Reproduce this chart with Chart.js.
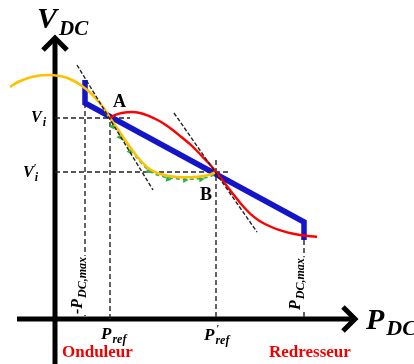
<!DOCTYPE html>
<html>
<head>
<meta charset="utf-8">
<script src="https://cdn.jsdelivr.net/npm/chart.js@4/dist/chart.umd.min.js"></script>
<style>
html,body{margin:0;padding:0;background:#fff;}
#wrap{width:414px;height:364px;position:relative;}
</style>
</head>
<body>
<div id="wrap"><canvas id="c" width="414" height="364"></canvas></div>
<script>
// Schematic V_DC - P_DC droop diagram (units: abstract, y upward)
const blueDroop = [{x:85,y:284},{x:85,y:261},{x:304,y:142},{x:304,y:124}];
const redCurve = [{x:110,y:246},{x:116,y:249.3},{x:123,y:251.2},{x:132,y:252},{x:140,y:251},{x:148,y:248.3},{x:157,y:244.2},{x:165,y:239.5},{x:173,y:233.8},{x:181,y:227.3},{x:190,y:219.8},{x:197,y:213},{x:203,y:206.7},{x:210,y:199.5},{x:216,y:192},{x:222,y:184.3},{x:227,y:177.8},{x:233,y:170},{x:240,y:161.3},{x:247,y:153.5},{x:253,y:147.8},{x:260,y:142.8},{x:267,y:139},{x:275,y:135.5},{x:283,y:132.8},{x:292,y:130.5},{x:300,y:129},{x:308,y:128},{x:317,y:127.3}];
const yellowCurve = [{x:10,y:277},{x:18,y:282},{x:26,y:285.3},{x:34,y:287.5},{x:42,y:288.7},{x:50,y:289},{x:58,y:288.3},{x:66,y:286.5},{x:74,y:283},{x:82,y:278},{x:90,y:271.5},{x:98,y:263},{x:104,y:255.5},{x:110,y:246},{x:116,y:237.3},{x:122,y:228.5},{x:128,y:219.8},{x:134,y:211.5},{x:140,y:204},{x:146,y:197.8},{x:152,y:193.5},{x:158,y:190.8},{x:165,y:188.8},{x:173,y:187.5},{x:182,y:186.8},{x:190,y:186.7},{x:198,y:187.2},{x:205,y:188.3},{x:211,y:189.8},{x:216,y:192}];
const greenTrail = [{x:111,y:243},{x:116,y:235.8},{x:122,y:227},{x:128,y:218.3},{x:134,y:210},{x:140,y:202.4},{x:146,y:196},{x:152,y:191.5},{x:158,y:188.8},{x:165,y:186.8},{x:173,y:185.5},{x:182,y:184.8},{x:190,y:184.7},{x:198,y:185.2},{x:205,y:186.3},{x:211,y:187.8},{x:215,y:190}];
const greenArrows = [{x:112.5,y:237.5},{x:120,y:227},{x:130,y:212.5},{x:148.5,y:193},{x:168,y:185},{x:185,y:184},{x:201,y:184.8}];
const greenRotation = [146,146,145,128,100,90,85];
const tangentA = [{x:77,y:299},{x:153,y:174}];
const tangentB = [{x:174,y:251},{x:257,y:132}];
const refLines = [
  [{x:55,y:246},{x:130,y:246}],
  [{x:55,y:192},{x:230,y:192}],
  [{x:85,y:261},{x:85,y:45}],
  [{x:110,y:250},{x:110,y:45}],
  [{x:216,y:204},{x:216,y:45}],
  [{x:304,y:124},{x:304,y:45}]
];
const vAxis = [{x:55,y:0},{x:55,y:324}];
const vArrow = [{x:43,y:314},{x:55,y:326},{x:67,y:314}];
const hAxis = [{x:17,y:45},{x:353,y:45}];
const hArrow = [{x:343,y:57},{x:355,y:45},{x:343,y:33}];

const SERIF = '"Liberation Serif","Times New Roman",serif';

function ds(data, color, width, order, extra){
  return Object.assign({data, order, borderColor:color, backgroundColor:color, borderWidth:width,
    pointRadius:0, showLine:true, fill:false, tension:0, borderCapStyle:'butt', borderJoinStyle:'miter'}, extra||{});
}
const datasets = [];
refLines.forEach(l=>datasets.push(ds(l,'#222',1.4,6,{borderDash:[5,3]})));
datasets.push(ds(tangentA,'#222',1.4,0,{borderDash:[4,2]}));
datasets.push(ds(tangentB,'#222',1.4,0,{borderDash:[4,2]}));
datasets.push(ds(vAxis,'#000',5,7));
datasets.push(ds(vArrow,'#000',5,7));
datasets.push(ds(hAxis,'#000',5,7));
datasets.push(ds(hArrow,'#000',5,7));
datasets.push(ds(greenTrail,'#2DB34A',1.6,4,{cubicInterpolationMode:'monotone',borderDash:[4,3]}));
datasets.push({data:greenArrows, order:4, showLine:false, pointStyle:'triangle', pointRadius:3.6, rotation:greenRotation,
  backgroundColor:'#2DB34A', borderColor:'#2DB34A', borderWidth:0});
datasets.push(ds(yellowCurve,'#FFC000',2.6,3,{cubicInterpolationMode:'monotone'}));
datasets.push(ds(redCurve,'#FF0000',2.4,2,{cubicInterpolationMode:'monotone'}));
datasets.push(ds(blueDroop,'#1414C8',5.5,5));

function rich(ctx, x, y, parts){
  let cx = x;
  parts.forEach(p=>{
    ctx.font = p.f;
    ctx.fillStyle = p.c || '#000';
    ctx.fillText(p.t, cx + (p.dx||0), y + (p.dy||0));
    if(!p.noadv) cx += ctx.measureText(p.t).width + (p.dx||0);
  });
  return cx - x;
}
function richWidth(ctx, parts){
  let w=0; parts.forEach(p=>{ctx.font=p.f; if(!p.noadv) w+=ctx.measureText(p.t).width+(p.dx||0);}); return w;
}
const BI = s => 'italic bold '+s+'px '+SERIF;
const B = s => 'bold '+s+'px '+SERIF;

const textPlugin = {
  id:'texts',
  afterDatasetsDraw(chart){
    const ctx = chart.ctx, xs = chart.scales.x, ys = chart.scales.y;
    const X = v=>xs.getPixelForValue(v), Y = v=>ys.getPixelForValue(v);
    ctx.save();
    ctx.textBaseline='alphabetic'; ctx.textAlign='left';
    // axis titles
    rich(ctx, X(37), Y(336), [{t:'V',f:BI(30)},{t:'DC',f:BI(21),dy:7,dx:2}]);
    rich(ctx, X(366), Y(35), [{t:'P',f:BI(30)},{t:'DC',f:BI(22),dy:6,dx:2}]);
    // points
    ctx.font = B(18); ctx.fillStyle='#000';
    ctx.fillText('A', X(113), Y(257));
    ctx.fillText('B', X(200), Y(164));
    // V_i, V'_i
    rich(ctx, X(31), Y(242), [{t:'V',f:BI(16)},{t:'i',f:BI(12),dy:4,dx:1}]);
    rich(ctx, X(23), Y(187), [{t:'V',f:BI(16)},{t:'\u2032',f:'bold 10px '+SERIF,dy:-6,dx:0,noadv:true},{t:'i',f:BI(12),dy:4,dx:1}]);
    // P_ref, P'_ref
    rich(ctx, X(101), Y(25), [{t:'P',f:BI(17)},{t:'ref',f:BI(12),dy:4,dx:1}]);
    rich(ctx, X(204), Y(24), [{t:'P',f:BI(17)},{t:'\u2032',f:'bold 10px '+SERIF,dy:-8,dx:2,noadv:true},{t:'ref',f:BI(12),dy:4,dx:1}]);
    // rotated labels with white background
    function vlabel(px, pyStart, parts){
      ctx.save();
      ctx.translate(px, pyStart);
      ctx.rotate(-Math.PI/2);
      const w = richWidth(ctx, parts);
      ctx.fillStyle='#fff';
      ctx.fillRect(-1, -15, w+2, 20);
      rich(ctx, 0, 0, parts);
      ctx.restore();
    }
    vlabel(X(82), Y(50), [{t:'-P',f:BI(16)},{t:'DC,max',f:BI(12),dy:4,dx:1}]);
    vlabel(X(300), Y(54), [{t:'P',f:BI(16)},{t:'DC,max',f:BI(12),dy:4,dx:1}]);
    // bottom red labels
    ctx.font = B(17); ctx.fillStyle='#F20000';
    ctx.fillText('Onduleur', X(62), Y(7));
    ctx.fillText('Redresseur', X(269), Y(7));
    ctx.restore();
  }
};

new Chart(document.getElementById('c'), {
  type:'scatter',
  data:{datasets},
  options:{
    responsive:false, devicePixelRatio:1, animation:false,
    layout:{padding:0, autoPadding:false},
    plugins:{legend:{display:false}, tooltip:{enabled:false}},
    scales:{
      x:{type:'linear', min:0, max:414, display:false},
      y:{type:'linear', min:0, max:364, display:false}
    }
  },
  plugins:[textPlugin]
});
</script>
</body>
</html>
